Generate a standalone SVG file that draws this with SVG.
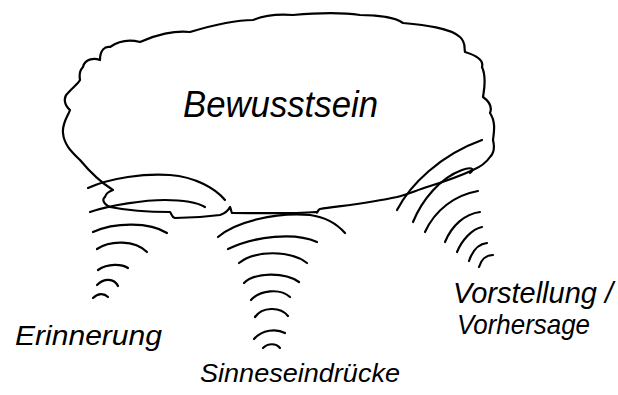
<svg xmlns="http://www.w3.org/2000/svg" width="618" height="395" viewBox="0 0 618 395">
<style>
.s{fill:none;stroke:#000;stroke-width:2.2;stroke-linecap:round;stroke-linejoin:round}
.t{font-family:"Liberation Sans","DejaVu Sans",sans-serif;font-style:italic;fill:#000}
</style>
<rect width="618" height="395" fill="#fff"/>
<g id="bewusstsein">
<path class="s" d="M83,67 C85,58 95,58 100,60 C100,50 105,46 110,47 C120,40 132,40 140,42 C155,35 175,30 190,32 C210,26 235,20 253,20 C265,15 280,14 293,15 C315,13 340,12 360,15 C375,15 395,17 403,23 C425,25 450,28 460,37 C466,42 464,48 465,52 C475,55 484,60 482,67 C487,78 484,90 483,97 C490,102 492,108 490,113 C496,122 494,132 493,140 C495,148 494,153 490,157 C486,163 480,167 473,170 C458,177 440,183 427,187 C415,191 405,195 397,197 C370,203 340,206 320,209 C317,210 318,214 316,212 C290,214 255,213 232,213 C231,211 231,209 230,207 C228,211 226,213 220,215 C205,217 190,218 175,218 C171,217 172,214 170,212 C150,212 125,210 110,207 C103,204 102,199 105,197 C106,193 110,191 113,190 C100,182 90,172 80,160 C72,152 64,145 63,133 C62,123 68,116 70,110 C64,105 63,97 68,93 C72,88 78,84 80,80 C79,74 80,70 83,67 Z"/>
<text class="t" x="183" y="117" font-size="36" textLength="195" lengthAdjust="spacingAndGlyphs">Bewusstsein</text>
</g>
<g id="erinnerung">
<path class="s" d="M88,188 C110,178 145,173 170,175 C195,177 215,188 225,200"/>
<path class="s" d="M90,212 C110,205 145,200 165,200 C185,200 198,203 205,207"/>
<path class="s" d="M93,232 C115,222 150,222 167,233"/>
<path class="s" d="M97,249 C110,240 135,240 147,252"/>
<path class="s" d="M98,270 C108,263 122,264 128,268"/>
<path class="s" d="M97,285 C104,278 114,278 118,286"/>
<path class="s" d="M93,298 C98,293 104,293 108,297"/>
<text class="t" x="15" y="345" font-size="28" textLength="147" lengthAdjust="spacingAndGlyphs">Erinnerung</text>
</g>
<g id="sinneseindruecke">
<path class="s" d="M218,237 C235,222 275,212 310,215 C325,217 337,224 345,233"/>
<path class="s" d="M228,249 C255,236 295,232 317,242"/>
<path class="s" d="M239,263 C255,250 290,250 307,263"/>
<path class="s" d="M244,283 C255,272 285,272 299,282"/>
<path class="s" d="M251,300 C260,290 280,288 290,297"/>
<path class="s" d="M255,317 C262,307 280,306 288,316"/>
<path class="s" d="M254,339 C262,330 276,328 285,333"/>
<path class="s" d="M263,348 C268,343 276,343 280,348"/>
<text class="t" x="200" y="382" font-size="26" textLength="200" lengthAdjust="spacingAndGlyphs">Sinneseindrücke</text>
</g>
<g id="vorstellung">
<path class="s" d="M397,210 C410,185 440,155 482,140"/>
<path class="s" d="M413,222 C422,200 440,178 462,170 C470,167 476,168 470,173"/>
<path class="s" d="M425,232 C435,210 455,195 478,191"/>
<path class="s" d="M445,242 C452,225 465,214 480,212"/>
<path class="s" d="M457,252 C462,240 472,229 482,227"/>
<path class="s" d="M469,261 C472,252 478,244 487,243"/>
<path class="s" d="M479,267 C481,260 486,255 493,255"/>
<text class="t" x="453" y="303" font-size="29" textLength="160" lengthAdjust="spacingAndGlyphs">Vorstellung /</text>
<text class="t" x="457" y="334" font-size="28" textLength="133" lengthAdjust="spacingAndGlyphs">Vorhersage</text>
</g>
<g id="connectors"></g>
</svg>
